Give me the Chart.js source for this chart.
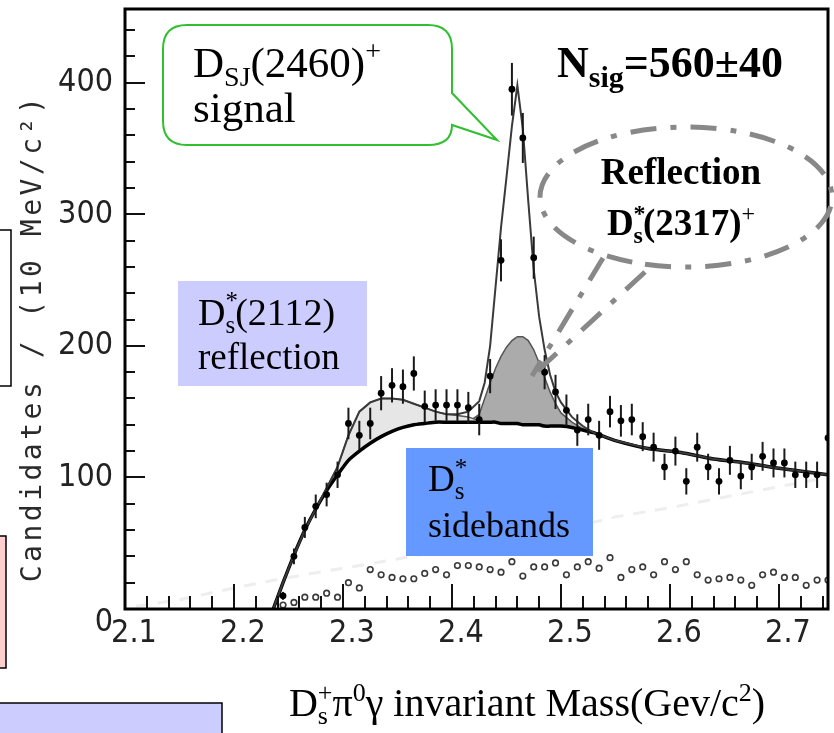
<!DOCTYPE html>
<html>
<head>
<meta charset="utf-8">
<script src="https://cdn.jsdelivr.net/npm/chart.js@4.4.0/dist/chart.umd.min.js"></script>
<style>
  html, body { margin: 0; padding: 0; background: #ffffff; }
  #wrap { width: 834px; height: 733px; position: relative; }
</style>
</head>
<body>
<div id="wrap"><canvas id="c" width="834" height="733"></canvas></div>
<script>
// ---- D_s+ pi0 gamma mass spectrum, 10 MeV bins ----
const massBins = [2.245, 2.255, 2.265, 2.275, 2.285, 2.295, 2.305, 2.315, 2.325, 2.335,
                  2.345, 2.355, 2.365, 2.375, 2.385, 2.395, 2.405, 2.415, 2.425, 2.435,
                  2.445, 2.455, 2.465, 2.475, 2.485, 2.495, 2.505, 2.515, 2.525, 2.535,
                  2.545, 2.555, 2.565, 2.575, 2.585, 2.595, 2.605, 2.615, 2.625, 2.635,
                  2.645, 2.655, 2.665, 2.675, 2.685, 2.695, 2.705, 2.715, 2.725, 2.735, 2.745];

const candidates = [10, 40, 62, 78, 87, 102, 141, 132, 141, 164,
                    170, 169, 179, 154, 155, 155, 155, 153, 144, 177,
                    265, 395, 358, 267, 180, 165, 151, 136, 144, 132,
                    150, 143, 144, 131, 123, 108, 120, 97, 123, 108,
                    97, 113, 101, 108, 116, 111, 111, 102, 102, 102, 130];

const candErr = [3, 6, 8, 9, 9, 10, 12, 11, 12, 13,
                 13, 13, 13, 12, 12, 12, 12, 12, 12, 13,
                 16, 20, 19, 16, 13, 13, 12, 12, 12, 11,
                 12, 12, 12, 11, 11, 10, 11, 10, 11, 10,
                 10, 11, 10, 10, 11, 11, 11, 10, 10, 10, 11];

// D_s* sideband candidates
const sidebandCounts = [3, 5, 9, 9, 12, 9, 20, 16, 30, 26,
                        24, 23, 23, 27, 30, 26, 33, 33, 32, 30,
                        28, 36, 25, 32, 32, 35, 26, 32, 36, 31,
                        39, 24, 30, 32, 26, 36, 30, 36, 26, 22,
                        23, 24, 22, 18, 26, 28, 24, 24, 18, 22, 22];

// ---- fit components ----
const fitX = [2.236, 2.245, 2.255, 2.265, 2.275, 2.285, 2.295, 2.305, 2.315, 2.325,
              2.335, 2.345, 2.355, 2.365, 2.375, 2.385, 2.395, 2.405, 2.415, 2.425,
              2.43, 2.435, 2.44, 2.445, 2.45, 2.455, 2.46, 2.465, 2.47, 2.475,
              2.48, 2.485, 2.49, 2.495, 2.50, 2.51, 2.52, 2.53, 2.55, 2.58,
              2.61, 2.64, 2.67, 2.70, 2.745];

const backgroundFit = [0, 20, 41, 60, 76, 90, 102, 113, 120, 126,
                       131, 135, 138, 140, 141, 142, 142, 142, 142, 142,
                       142, 142, 142, 141, 141, 141, 141, 140, 140, 140,
                       140, 139, 139, 139, 139, 138, 136, 134, 128, 122,
                       119, 114, 111, 107, 102];

// background + D_s*(2112) reflection
const refl2112Fit = [0, 20, 41, 60, 76, 92, 108, 132, 150, 157,
                     160, 160, 159, 156, 153, 150, 148, 147, 146, 143,
                     142, 142, 142, 141, 141, 141, 141, 140, 140, 140,
                     140, 139, 139, 139, 139, 138, 136, 134, 128, 122,
                     119, 114, 111, 107, 102];

// background + D_s(2317) reflection
const refl2317Fit = [0, 20, 41, 60, 76, 90, 102, 113, 120, 126,
                     131, 135, 138, 140, 141, 142, 142, 142, 142, 148,
                     160, 172, 183, 192, 199, 204, 207, 207, 204, 197,
                     187, 176, 165, 156, 149, 142, 137, 134, 128, 122,
                     119, 114, 111, 107, 102];

// full fit: background + reflections + D_sJ(2460) signal
const totalFit = [0, 20, 41, 60, 76, 92, 108, 132, 150, 157,
                  160, 160, 159, 156, 153, 150, 148, 148, 150, 158,
                  172, 200, 245, 290, 328, 367, 398, 365, 310, 258,
                  222, 197, 178, 165, 157, 146, 139, 134, 128, 122,
                  119, 114, 111, 107, 102];

// faint combinatorial shape
const combX = [2.11, 2.15, 2.20, 2.25, 2.30, 2.35, 2.40, 2.45, 2.50, 2.53, 2.55, 2.60, 2.65, 2.70, 2.745];
const combFit = [2, 7, 16, 24, 31, 38, 46, 53, 60, 66, 70, 77, 85, 93, 100];

// axis ticks
const xTickValues = [2.1, 2.2, 2.3, 2.4, 2.5, 2.6, 2.7];
const yTickValues = [0, 100, 200, 300, 400];

const pts = (xs, ys) => xs.map((x, i) => ({ x: x, y: ys[i] }));
const SERIF = '"Liberation Serif", "Times New Roman", serif';
const TICK_FONT = '"DejaVu Sans Condensed", "DejaVu Sans", sans-serif';

// draws a run of text pieces (subscripts / superscripts) starting at x
function richText(ctx, x, y, parts, align) {
  const fontOf = p => (p.b ? 'bold ' : '') + p.s + 'px ' + SERIF;
  let total = 0;
  for (const p of parts) {
    ctx.font = fontOf(p);
    p.w = ctx.measureText(p.t).width;
    if (!p.keep) total += p.w;
  }
  let cx = align === 'center' ? x - total / 2 : x;
  ctx.textAlign = 'left';
  ctx.textBaseline = 'alphabetic';
  for (const p of parts) {
    ctx.font = fontOf(p);
    ctx.fillText(p.t, cx, y + (p.dy || 0));
    if (!p.keep) cx += p.w;
  }
}

const errorBars = {
  id: 'errorBars',
  beforeDatasetDraw(chart, args) {
    if (args.index !== 0) return;
    const { ctx, chartArea: a, scales: { x, y } } = chart;
    ctx.save();
    ctx.beginPath();
    ctx.rect(a.left, a.top, a.right - a.left, a.bottom - a.top);
    ctx.clip();
    ctx.strokeStyle = '#1a1a1a';
    ctx.lineWidth = 2;
    massBins.forEach((m, i) => {
      const px = x.getPixelForValue(m);
      ctx.beginPath();
      ctx.moveTo(px, y.getPixelForValue(candidates[i] - candErr[i]));
      ctx.lineTo(px, y.getPixelForValue(candidates[i] + candErr[i]));
      ctx.stroke();
    });
    ctx.restore();
  }
};

const frameAndTicks = {
  id: 'frameAndTicks',
  afterDatasetsDraw(chart) {
    const { ctx, chartArea: a, scales: { x, y } } = chart;
    ctx.save();
    ctx.strokeStyle = '#111';
    ctx.lineWidth = 2;
    // inward ticks on the mass axis: minor every 20 MeV
    for (let k = 0; 2.1 + k * 0.02 <= x.max + 1e-9; k++) {
      const px = Math.round(x.getPixelForValue(2.1 + k * 0.02));
      const len = k % 5 === 0 ? 25 : 13;
      ctx.beginPath();
      ctx.moveTo(px, a.bottom);
      ctx.lineTo(px, a.bottom - len);
      ctx.stroke();
    }
    // inward ticks on the count axis: minor every 20
    for (let v = 0; v <= y.max; v += 20) {
      const py = Math.round(y.getPixelForValue(v));
      const len = v % 100 === 0 ? 20 : 10;
      ctx.beginPath();
      ctx.moveTo(a.left, py);
      ctx.lineTo(a.left + len, py);
      ctx.stroke();
    }
    ctx.lineWidth = 3;
    ctx.strokeStyle = '#000';
    ctx.strokeRect(a.left, a.top, a.right - a.left, a.bottom - a.top);
    ctx.restore();
  }
};

const annotations = {
  id: 'annotations',
  afterDraw(chart) {
    const ctx = chart.ctx;
    ctx.save();

    // neighbouring slide elements at the left edge
    ctx.lineWidth = 1.5;
    ctx.strokeStyle = '#000';
    ctx.fillStyle = '#ffffff';
    ctx.fillRect(-5, 230, 16, 156);
    ctx.strokeRect(-5, 230, 16, 156);
    ctx.fillStyle = '#ffcfcf';
    ctx.fillRect(-5, 536, 11, 132);
    ctx.strokeRect(-5, 536, 11, 132);
    ctx.fillStyle = '#ccccff';
    ctx.fillRect(-5, 703, 227, 40);
    ctx.strokeRect(-5, 703, 227, 40);

    // y-axis title
    ctx.save();
    ctx.translate(41, 338);
    ctx.rotate(-Math.PI / 2);
    ctx.font = '28px "DejaVu Sans Mono", monospace';
    ctx.letterSpacing = '3.5px';
    ctx.fillStyle = '#2a2a2a';
    ctx.textAlign = 'center';
    ctx.textBaseline = 'alphabetic';
    ctx.fillText('Candidates / (10 MeV/c²)', 0, 0);
    ctx.restore();

    // x-axis title
    ctx.fillStyle = '#000';
    richText(ctx, 527, 716, [
      { t: 'D', s: 40 }, { t: 's', s: 26, dy: 8, keep: true }, { t: '+', s: 26, dy: -15 },
      { t: 'π', s: 40 }, { t: '0', s: 26, dy: -15 },
      { t: 'γ invariant Mass(Gev/c', s: 40 }, { t: '2', s: 26, dy: -15 }, { t: ')', s: 40 }
    ], 'center');

    // D_sJ(2460) signal callout
    const L = 163, T = 25, R = 452, B = 145, r = 24;
    ctx.beginPath();
    ctx.moveTo(L + r, T);
    ctx.lineTo(R - r, T);
    ctx.quadraticCurveTo(R, T, R, T + r);
    ctx.lineTo(R, 93);
    ctx.lineTo(497, 140);
    ctx.lineTo(R, 125);
    ctx.quadraticCurveTo(R, B, R - r, B);
    ctx.lineTo(L + r, B);
    ctx.quadraticCurveTo(L, B, L, B - r);
    ctx.lineTo(L, T + r);
    ctx.quadraticCurveTo(L, T, L + r, T);
    ctx.closePath();
    ctx.fillStyle = '#ffffff';
    ctx.fill();
    ctx.strokeStyle = '#2fbf2f';
    ctx.lineWidth = 2;
    ctx.stroke();
    ctx.fillStyle = '#000';
    richText(ctx, 193, 77, [
      { t: 'D', s: 43 }, { t: 'SJ', s: 28, dy: 9 }, { t: '(2460)', s: 43 }, { t: '+', s: 28, dy: -17 }
    ]);
    richText(ctx, 193, 122, [{ t: 'signal', s: 43 }]);

    // signal yield
    richText(ctx, 557, 77, [
      { t: 'N', s: 44, b: true }, { t: 'sig', s: 30, dy: 10, b: true }, { t: '=560±40', s: 44, b: true }
    ]);

    // D_s(2317) reflection bubble
    ctx.strokeStyle = '#888888';
    ctx.lineWidth = 5;
    ctx.setLineDash([26, 14, 6, 14]);
    ctx.beginPath();
    ctx.ellipse(686, 197, 146, 70, 0, Math.PI * 0.62, Math.PI * 2.62);
    ctx.stroke();
    ctx.beginPath();
    ctx.moveTo(603, 258);
    ctx.lineTo(532, 376);
    ctx.stroke();
    ctx.beginPath();
    ctx.moveTo(645, 272);
    ctx.lineTo(532, 376);
    ctx.stroke();
    ctx.setLineDash([]);
    ctx.fillStyle = '#000';
    richText(ctx, 681, 184, [{ t: 'Reflection', s: 37, b: true }], 'center');
    richText(ctx, 681, 235, [
      { t: 'D', s: 37, b: true }, { t: '*', s: 24, dy: -14, b: true, keep: true }, { t: 's', s: 24, dy: 8, b: true },
      { t: '(2317)', s: 37, b: true }, { t: '+', s: 24, dy: -14 }
    ], 'center');

    // D_s*(2112) reflection label
    ctx.fillStyle = '#ccccff';
    ctx.fillRect(178, 281, 189, 105);
    ctx.fillStyle = '#000';
    richText(ctx, 198, 325, [
      { t: 'D', s: 38 }, { t: '*', s: 25, dy: -16, keep: true }, { t: 's', s: 25, dy: 8 }, { t: '(2112)', s: 38 }
    ]);
    richText(ctx, 198, 369, [{ t: 'reflection', s: 37 }]);

    // D_s* sidebands label
    ctx.fillStyle = '#6699ff';
    ctx.fillRect(406, 448, 187, 108);
    ctx.fillStyle = '#000';
    richText(ctx, 428, 491, [
      { t: 'D', s: 37 }, { t: '*', s: 25, dy: -15, keep: true }, { t: 's', s: 25, dy: 8 }
    ]);
    richText(ctx, 428, 537, [{ t: 'sidebands', s: 36 }]);

    ctx.restore();
  }
};

new Chart(document.getElementById('c'), {
  type: 'line',
  data: {
    datasets: [
      {
        label: 'Data',
        data: pts(massBins, candidates),
        showLine: false,
        pointStyle: 'circle',
        pointRadius: 3.4,
        pointBackgroundColor: '#000',
        pointBorderColor: '#000',
        pointBorderWidth: 0
      },
      {
        label: 'D_s* sidebands',
        data: pts(massBins, sidebandCounts),
        showLine: false,
        pointStyle: 'circle',
        pointRadius: 2.8,
        pointBackgroundColor: '#ffffff',
        pointBorderColor: '#3a3a3a',
        pointBorderWidth: 1.6
      },
      {
        label: 'Fit',
        data: pts(fitX, totalFit),
        borderColor: '#3a3a3a',
        borderWidth: 2,
        pointRadius: 0,
        tension: 0,
        fill: false
      },
      {
        label: 'Background',
        data: pts(fitX, backgroundFit),
        borderColor: '#000',
        borderWidth: 3.5,
        pointRadius: 0,
        tension: 0.2,
        fill: false
      },
      {
        label: 'D_s*(2112) reflection',
        data: pts(fitX, refl2112Fit),
        borderColor: '#555',
        borderWidth: 1.5,
        backgroundColor: '#e6e6e6',
        pointRadius: 0,
        tension: 0,
        fill: { target: 3 }
      },
      {
        label: 'D_s(2317) reflection',
        data: pts(fitX, refl2317Fit),
        borderColor: '#555',
        borderWidth: 1.5,
        backgroundColor: '#ababab',
        pointRadius: 0,
        tension: 0,
        fill: { target: 3 }
      },
      {
        label: 'Combinatorial',
        data: pts(combX, combFit),
        borderColor: '#eeeeee',
        borderWidth: 3,
        borderDash: [12, 10],
        pointRadius: 0,
        fill: false
      }
    ]
  },
  options: {
    responsive: false,
    animation: false,
    devicePixelRatio: 1,
    layout: { padding: { left: 0, right: 6, top: 9, bottom: 0 } },
    plugins: { legend: { display: false }, tooltip: { enabled: false } },
    scales: {
      x: {
        type: 'linear',
        min: 2.1,
        max: 2.745,
        afterFit(s) { s.height = 124; s.paddingLeft = 0; s.paddingRight = 0; },
        afterBuildTicks(s) { s.ticks = xTickValues.map(v => ({ value: v })); },
        grid: { display: false, drawTicks: false },
        border: { display: false },
        ticks: {
          autoSkip: false,
          maxRotation: 0,
          padding: 5,
          labelOffset: 9,
          color: '#222',
          font: { family: TICK_FONT, size: 32 },
          callback: v => v.toFixed(1)
        }
      },
      y: {
        type: 'linear',
        min: 0,
        max: 456,
        afterFit(s) { s.width = 125; s.paddingTop = 0; s.paddingBottom = 0; },
        afterBuildTicks(s) { s.ticks = yTickValues.map(v => ({ value: v })); },
        grid: { display: false, drawTicks: false },
        border: { display: false },
        ticks: {
          padding: 12,
          color: '#222',
          font: { family: TICK_FONT, size: 32, lineHeight: 0.85 },
          callback: v => (v === 0 ? ['', '0'] : String(v))
        }
      }
    }
  },
  plugins: [errorBars, frameAndTicks, annotations]
});
</script>
</body>
</html>
